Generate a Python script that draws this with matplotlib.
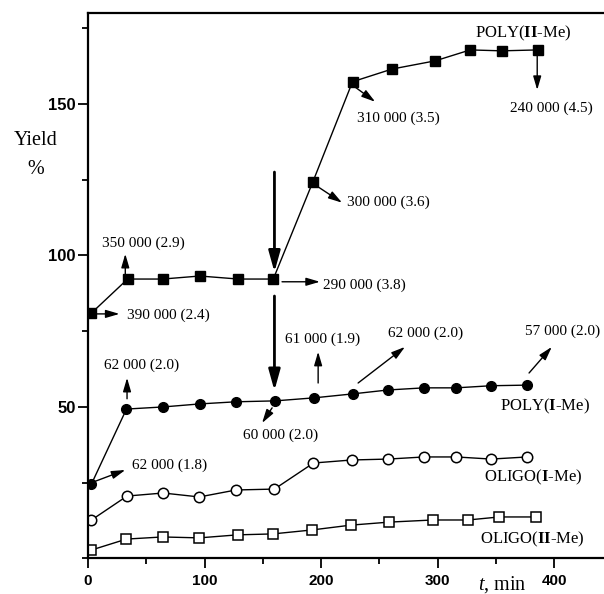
import matplotlib
matplotlib.use("Agg")
import matplotlib.pyplot as plt
from matplotlib.ticker import MultipleLocator

plt.rcParams['mathtext.fontset'] = 'custom'
plt.rcParams['mathtext.rm'] = 'Liberation Serif'
plt.rcParams['mathtext.bf'] = 'Liberation Serif:bold'
plt.rcParams['mathtext.it'] = 'Liberation Serif:italic'

# ---- data ----
t_poly2 = [3, 34, 64, 96, 129, 159, 193, 227, 261, 298, 328, 355, 386]
y_poly2 = [81, 92.2, 92.2, 93.2, 92.2, 92.2, 124.3, 157.3, 161.5, 164.2, 167.8, 167.5, 167.8]

t_poly1 = [3, 33, 64.5, 96, 127, 160.5, 194, 227, 257.5, 288.5, 316, 346, 377]
y_poly1 = [24.6, 49.3, 50, 51, 51.7, 52, 53, 54.3, 55.6, 56.3, 56.3, 57, 57.2]

t_oligo1 = [3, 33.5, 64.5, 95.5, 127, 160, 193.5, 226.5, 257.5, 288.5, 316, 346, 377]
y_oligo1 = [12.7, 20.6, 21.6, 20.3, 22.6, 22.9, 31.5, 32.5, 32.8, 33.5, 33.5, 32.8, 33.5]

t_oligo2 = [3, 33, 64, 95.5, 128.5, 158.5, 192, 225.5, 258.5, 296, 326, 353, 384.5]
y_oligo2 = [2.8, 6.4, 7.1, 6.8, 7.8, 8.1, 9.4, 11, 12, 12.7, 12.7, 13.7, 13.7]

series_labels = [r"POLY($\mathbf{II}$-Me)", r"POLY($\mathbf{I}$-Me)",
                 r"OLIGO($\mathbf{I}$-Me)", r"OLIGO($\mathbf{II}$-Me)"]

mw_labels = ["350 000 (2.9)", "390 000 (2.4)", "290 000 (3.8)", "300 000 (3.6)",
             "310 000 (3.5)", "240 000 (4.5)", "62 000 (2.0)", "62 000 (1.8)",
             "60 000 (2.0)", "61 000 (1.9)", "62 000 (2.0)", "57 000 (2.0)"]

x_ticks = [0, 100, 200, 300, 400]
y_ticks = [50, 100, 150]

# ---- figure ----
fig = plt.figure(figsize=(6.04, 5.94), dpi=100)
ax = fig.add_axes([0.1457, 0.0598, 0.8643, 0.9184])
ax.set_xlim(0, 448)
ax.set_ylim(0, 180)

lk = dict(color='black', lw=1.0)
ax.plot(t_poly2, y_poly2, marker='s', ms=6.5, mfc='black', mec='black', **lk)
ax.plot(t_poly1, y_poly1, marker='o', ms=7, mfc='black', mec='black', **lk)
ax.plot(t_oligo1, y_oligo1, marker='o', ms=7.5, mfc='white', mec='black', mew=1.1, **lk)
ax.plot(t_oligo2, y_oligo2, marker='s', ms=7, mfc='white', mec='black', mew=1.1, **lk)

serif = 'Liberation Serif'
# series labels (left x, center y)
lab_pos = [(332, 173.4), (353.6, 50.3), (340, 26.6), (336.5, 6.4)]
for lab, (x, y) in zip(series_labels, lab_pos):
    ax.text(x, y, lab, family=serif, fontsize=12, ha='left', va='center')

# MW annotations: text pos (left, center) and arrow tail->head
ann = [
    ((12, 104), (32, 93.5), (32, 100.5)),
    ((33.5, 80.4), (5, 80.7), (27, 80.7)),
    ((201.7, 90.3), (166.5, 91.3), (199, 91.3)),
    ((222, 117.4), (197.5, 122.6), (218, 117.4)),
    ((231, 145.4), (229, 155.6), (246.4, 150.7)),
    ((362, 148.7), (385.5, 166), (385.5, 154.6)),
    ((14, 63.9), (33.5, 52.7), (33.5, 59.6)),
    ((37.8, 30.9), (4.3, 25.2), (32, 29.2)),
    ((133, 40.8), (158, 49.7), (149.4, 44.7)),
    ((169, 72.4), (197.5, 57.9), (197.5, 68.2)),
    ((257.5, 74.4), (231.8, 57.9), (272, 69.8)),
    ((375, 75), (378.5, 61.2), (398, 69.8)),
]
for lab, (tp, tail, head) in zip(mw_labels, ann):
    ax.text(tp[0], tp[1], lab, family=serif, fontsize=11, ha='left', va='center')
    ax.annotate('', xy=head, xytext=tail,
                arrowprops=dict(arrowstyle='-|>,head_width=0.22,head_length=0.75',
                                color='black', lw=1.0,
                                mutation_scale=11, shrinkA=0, shrinkB=0))

# big vertical arrows
for tail, head in [((160, 127.5), (160, 94.5)), ((160, 86.6), (160, 55.4))]:
    ax.annotate('', xy=head, xytext=tail,
                arrowprops=dict(arrowstyle='-|>,head_width=0.25,head_length=0.9',
                                color='black', lw=2.0, mutation_scale=14,
                                shrinkA=0, shrinkB=0))

# axes styling
for s in ['left', 'bottom', 'top']:
    ax.spines[s].set_linewidth(1.6)
ax.spines['right'].set_visible(False)
ax.set_xticks(x_ticks)
ax.set_yticks(y_ticks)
ax.xaxis.set_minor_locator(MultipleLocator(50))
ax.yaxis.set_minor_locator(MultipleLocator(25))
ax.tick_params(which='major', direction='out', length=7, width=1.3)
ax.tick_params(which='minor', direction='out', length=4, width=1.3)
ax.tick_params(top=False, right=False, which='both')
ax.tick_params(axis='y', pad=2)
ax.tick_params(axis='x', pad=4)
for lbl in ax.get_yticklabels():
    lbl.set_fontfamily('Liberation Sans'); lbl.set_fontweight('bold'); lbl.set_fontsize(12)
for lbl in ax.get_xticklabels():
    lbl.set_fontfamily('Liberation Sans'); lbl.set_fontweight('bold'); lbl.set_fontsize(11)

fig.text(0.059, 0.764, "Yield", family=serif, fontsize=14.5, ha='center', va='center')
fig.text(0.060, 0.714, "%", family=serif, fontsize=14.5, ha='center', va='center')
fig.text(0.832, 0.016, r"$t$, min", family=serif, fontsize=14.5, ha='center', va='center')

fig.savefig("out.png", dpi=100)
